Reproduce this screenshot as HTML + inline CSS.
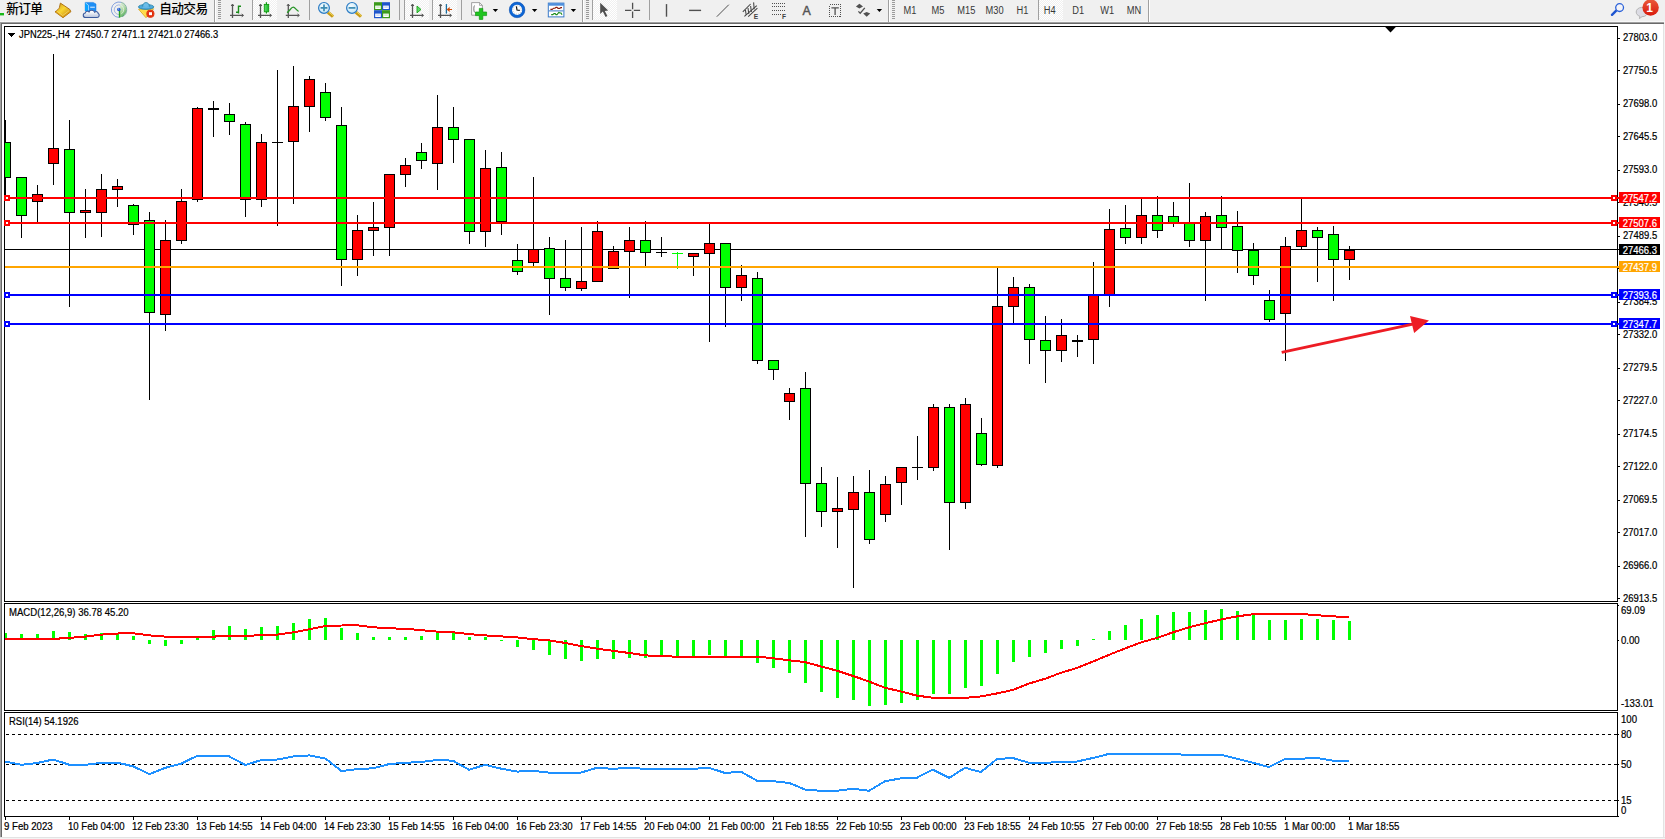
<!DOCTYPE html>
<html><head><meta charset="utf-8"><title>JPN225-,H4</title>
<style>
html,body{margin:0;padding:0}
body{width:1665px;height:839px;overflow:hidden;background:#f0f0f0;position:relative;font-family:"Liberation Sans","Noto Sans CJK SC",sans-serif;font-size:10px;color:#000}
#win{position:absolute;left:0;top:22px;width:1665px;height:817px;background:#fff}
#chart{position:absolute;left:0;top:0;width:1665px;height:839px}
svg{position:absolute;left:0;top:0}
.ax,.ax2,.tag,.tm,.lbl{position:absolute;white-space:nowrap;line-height:12px;height:12px;-webkit-text-stroke:0.2px currentColor}
.ax,.ax2,.tm,.lbl{transform-origin:0 0}
.ax{transform:scaleX(0.945)}.ax2{transform:scaleX(0.96)}.tm{transform:scaleX(0.962)}
.tag span{display:block;position:relative;top:1px;transform:scaleX(0.945);transform-origin:0 0}
.ax{left:1623px}
.ax2{left:1621px}
.tag{left:1619px;width:41px;height:11px;line-height:11px;color:#fff;text-indent:4px}
.tm{top:821px}
#tb{position:absolute;left:0;top:0;width:1665px;height:22px}
.tbt{position:absolute;top:1.2px;height:18px;line-height:17px;font-size:12.7px;letter-spacing:-0.6px;color:#000;font-weight:500;white-space:nowrap;font-family:"Liberation Sans","Noto Sans CJK SC",sans-serif}

</style></head><body>
<div id="win"></div>
<div id="frame">
<div style="position:absolute;left:0;top:21px;width:1665px;height:1px;background:#f8f8f8"></div>
<div style="position:absolute;left:0;top:22px;width:1665px;height:1px;background:#a0a0a0"></div>
<div style="position:absolute;left:0;top:23px;width:1665px;height:1px;background:#696969"></div>
<div style="position:absolute;left:0;top:22px;width:1px;height:817px;background:#a0a0a0"></div>
<div style="position:absolute;left:1px;top:23px;width:1px;height:816px;background:#696969"></div>
<div style="position:absolute;left:1663px;top:24px;width:1px;height:815px;background:#e3e3e3"></div>
<div style="position:absolute;left:1664px;top:22px;width:1px;height:817px;background:#f4f4f4"></div>
<div style="position:absolute;left:0px;top:837px;width:1665px;height:1px;background:#e3e3e3"></div>
<div style="position:absolute;left:0px;top:838px;width:1665px;height:1px;background:#f4f4f4"></div>
</div>
<div id="chart">
<svg width="1665" height="839" viewBox="0 0 1665 839" shape-rendering="crispEdges">
<defs><clipPath id="cp"><rect x="5" y="27" width="1612" height="789"/></clipPath></defs><g clip-path="url(#cp)">
<rect x="5" y="249" width="1612" height="1" fill="#000"/>
<rect x="5" y="120" width="1" height="78" fill="#000"/>
<rect x="0" y="142" width="11" height="36" fill="#000"/>
<rect x="1" y="143" width="9" height="34" fill="#00ff00"/>
<rect x="21" y="177" width="1" height="61" fill="#000"/>
<rect x="16" y="177" width="11" height="39" fill="#000"/>
<rect x="17" y="178" width="9" height="37" fill="#00ff00"/>
<rect x="37" y="185" width="1" height="37" fill="#000"/>
<rect x="32" y="194" width="11" height="8" fill="#000"/>
<rect x="33" y="195" width="9" height="6" fill="#ff0000"/>
<rect x="53" y="54" width="1" height="131" fill="#000"/>
<rect x="48" y="148" width="11" height="16" fill="#000"/>
<rect x="49" y="149" width="9" height="14" fill="#ff0000"/>
<rect x="69" y="120" width="1" height="187" fill="#000"/>
<rect x="64" y="149" width="11" height="64" fill="#000"/>
<rect x="65" y="150" width="9" height="62" fill="#00ff00"/>
<rect x="85" y="189" width="1" height="49" fill="#000"/>
<rect x="80" y="210" width="11" height="3" fill="#000"/>
<rect x="81" y="211" width="9" height="1" fill="#ff0000"/>
<rect x="101" y="174" width="1" height="63" fill="#000"/>
<rect x="96" y="189" width="11" height="24" fill="#000"/>
<rect x="97" y="190" width="9" height="22" fill="#ff0000"/>
<rect x="117" y="179" width="1" height="28" fill="#000"/>
<rect x="112" y="186" width="11" height="4" fill="#000"/>
<rect x="113" y="187" width="9" height="2" fill="#ff0000"/>
<rect x="133" y="204" width="1" height="31" fill="#000"/>
<rect x="128" y="205" width="11" height="20" fill="#000"/>
<rect x="129" y="206" width="9" height="18" fill="#00ff00"/>
<rect x="149" y="212" width="1" height="188" fill="#000"/>
<rect x="144" y="220" width="11" height="93" fill="#000"/>
<rect x="145" y="221" width="9" height="91" fill="#00ff00"/>
<rect x="165" y="220" width="1" height="111" fill="#000"/>
<rect x="160" y="240" width="11" height="75" fill="#000"/>
<rect x="161" y="241" width="9" height="73" fill="#ff0000"/>
<rect x="181" y="189" width="1" height="55" fill="#000"/>
<rect x="176" y="201" width="11" height="40" fill="#000"/>
<rect x="177" y="202" width="9" height="38" fill="#ff0000"/>
<rect x="197" y="107" width="1" height="95" fill="#000"/>
<rect x="192" y="108" width="11" height="92" fill="#000"/>
<rect x="193" y="109" width="9" height="90" fill="#ff0000"/>
<rect x="213" y="101" width="1" height="36" fill="#000"/>
<rect x="208" y="108" width="11" height="2" fill="#000"/>
<rect x="229" y="103" width="1" height="32" fill="#000"/>
<rect x="224" y="114" width="11" height="8" fill="#000"/>
<rect x="225" y="115" width="9" height="6" fill="#00ff00"/>
<rect x="245" y="122" width="1" height="95" fill="#000"/>
<rect x="240" y="124" width="11" height="76" fill="#000"/>
<rect x="241" y="125" width="9" height="74" fill="#00ff00"/>
<rect x="261" y="134" width="1" height="73" fill="#000"/>
<rect x="256" y="142" width="11" height="58" fill="#000"/>
<rect x="257" y="143" width="9" height="56" fill="#ff0000"/>
<rect x="277" y="70" width="1" height="156" fill="#000"/>
<rect x="272" y="142" width="11" height="1" fill="#000"/>
<rect x="293" y="66" width="1" height="138" fill="#000"/>
<rect x="288" y="106" width="11" height="36" fill="#000"/>
<rect x="289" y="107" width="9" height="34" fill="#ff0000"/>
<rect x="309" y="76" width="1" height="56" fill="#000"/>
<rect x="304" y="79" width="11" height="28" fill="#000"/>
<rect x="305" y="80" width="9" height="26" fill="#ff0000"/>
<rect x="325" y="83" width="1" height="38" fill="#000"/>
<rect x="320" y="92" width="11" height="26" fill="#000"/>
<rect x="321" y="93" width="9" height="24" fill="#00ff00"/>
<rect x="341" y="107" width="1" height="179" fill="#000"/>
<rect x="336" y="125" width="11" height="135" fill="#000"/>
<rect x="337" y="126" width="9" height="133" fill="#00ff00"/>
<rect x="357" y="215" width="1" height="61" fill="#000"/>
<rect x="352" y="230" width="11" height="30" fill="#000"/>
<rect x="353" y="231" width="9" height="28" fill="#ff0000"/>
<rect x="373" y="202" width="1" height="54" fill="#000"/>
<rect x="368" y="227" width="11" height="4" fill="#000"/>
<rect x="369" y="228" width="9" height="2" fill="#ff0000"/>
<rect x="389" y="174" width="1" height="82" fill="#000"/>
<rect x="384" y="174" width="11" height="54" fill="#000"/>
<rect x="385" y="175" width="9" height="52" fill="#ff0000"/>
<rect x="405" y="158" width="1" height="29" fill="#000"/>
<rect x="400" y="165" width="11" height="10" fill="#000"/>
<rect x="401" y="166" width="9" height="8" fill="#ff0000"/>
<rect x="421" y="143" width="1" height="26" fill="#000"/>
<rect x="416" y="152" width="11" height="9" fill="#000"/>
<rect x="417" y="153" width="9" height="7" fill="#00ff00"/>
<rect x="437" y="95" width="1" height="95" fill="#000"/>
<rect x="432" y="127" width="11" height="37" fill="#000"/>
<rect x="433" y="128" width="9" height="35" fill="#ff0000"/>
<rect x="453" y="107" width="1" height="56" fill="#000"/>
<rect x="448" y="127" width="11" height="13" fill="#000"/>
<rect x="449" y="128" width="9" height="11" fill="#00ff00"/>
<rect x="469" y="139" width="1" height="105" fill="#000"/>
<rect x="464" y="139" width="11" height="93" fill="#000"/>
<rect x="465" y="140" width="9" height="91" fill="#00ff00"/>
<rect x="485" y="150" width="1" height="97" fill="#000"/>
<rect x="480" y="168" width="11" height="64" fill="#000"/>
<rect x="481" y="169" width="9" height="62" fill="#ff0000"/>
<rect x="501" y="152" width="1" height="83" fill="#000"/>
<rect x="496" y="167" width="11" height="55" fill="#000"/>
<rect x="497" y="168" width="9" height="53" fill="#00ff00"/>
<rect x="517" y="244" width="1" height="31" fill="#000"/>
<rect x="512" y="260" width="11" height="12" fill="#000"/>
<rect x="513" y="261" width="9" height="10" fill="#00ff00"/>
<rect x="533" y="177" width="1" height="90" fill="#000"/>
<rect x="528" y="249" width="11" height="14" fill="#000"/>
<rect x="529" y="250" width="9" height="12" fill="#ff0000"/>
<rect x="549" y="237" width="1" height="78" fill="#000"/>
<rect x="544" y="248" width="11" height="31" fill="#000"/>
<rect x="545" y="249" width="9" height="29" fill="#00ff00"/>
<rect x="565" y="240" width="1" height="51" fill="#000"/>
<rect x="560" y="278" width="11" height="10" fill="#000"/>
<rect x="561" y="279" width="9" height="8" fill="#00ff00"/>
<rect x="581" y="227" width="1" height="64" fill="#000"/>
<rect x="576" y="281" width="11" height="8" fill="#000"/>
<rect x="577" y="282" width="9" height="6" fill="#ff0000"/>
<rect x="597" y="221" width="1" height="61" fill="#000"/>
<rect x="592" y="231" width="11" height="51" fill="#000"/>
<rect x="593" y="232" width="9" height="49" fill="#ff0000"/>
<rect x="613" y="246" width="1" height="23" fill="#000"/>
<rect x="608" y="251" width="11" height="18" fill="#000"/>
<rect x="609" y="252" width="9" height="16" fill="#ff0000"/>
<rect x="629" y="227" width="1" height="71" fill="#000"/>
<rect x="624" y="240" width="11" height="12" fill="#000"/>
<rect x="625" y="241" width="9" height="10" fill="#ff0000"/>
<rect x="645" y="221" width="1" height="46" fill="#000"/>
<rect x="640" y="240" width="11" height="13" fill="#000"/>
<rect x="641" y="241" width="9" height="11" fill="#00ff00"/>
<rect x="661" y="237" width="1" height="20" fill="#000"/>
<rect x="656" y="252" width="11" height="1" fill="#000"/>
<rect x="677" y="252" width="1" height="17" fill="#00ff00"/>
<rect x="672" y="253" width="11" height="1" fill="#00ff00"/>
<rect x="693" y="253" width="1" height="23" fill="#000"/>
<rect x="688" y="253" width="11" height="4" fill="#000"/>
<rect x="689" y="254" width="9" height="2" fill="#ff0000"/>
<rect x="709" y="224" width="1" height="118" fill="#000"/>
<rect x="704" y="243" width="11" height="11" fill="#000"/>
<rect x="705" y="244" width="9" height="9" fill="#ff0000"/>
<rect x="725" y="243" width="1" height="84" fill="#000"/>
<rect x="720" y="243" width="11" height="45" fill="#000"/>
<rect x="721" y="244" width="9" height="43" fill="#00ff00"/>
<rect x="741" y="265" width="1" height="36" fill="#000"/>
<rect x="736" y="275" width="11" height="13" fill="#000"/>
<rect x="737" y="276" width="9" height="11" fill="#ff0000"/>
<rect x="757" y="272" width="1" height="92" fill="#000"/>
<rect x="752" y="278" width="11" height="83" fill="#000"/>
<rect x="753" y="279" width="9" height="81" fill="#00ff00"/>
<rect x="773" y="360" width="1" height="20" fill="#000"/>
<rect x="768" y="360" width="11" height="10" fill="#000"/>
<rect x="769" y="361" width="9" height="8" fill="#00ff00"/>
<rect x="789" y="388" width="1" height="32" fill="#000"/>
<rect x="784" y="393" width="11" height="9" fill="#000"/>
<rect x="785" y="394" width="9" height="7" fill="#ff0000"/>
<rect x="805" y="372" width="1" height="165" fill="#000"/>
<rect x="800" y="388" width="11" height="96" fill="#000"/>
<rect x="801" y="389" width="9" height="94" fill="#00ff00"/>
<rect x="821" y="467" width="1" height="60" fill="#000"/>
<rect x="816" y="483" width="11" height="29" fill="#000"/>
<rect x="817" y="484" width="9" height="27" fill="#00ff00"/>
<rect x="837" y="477" width="1" height="71" fill="#000"/>
<rect x="832" y="508" width="11" height="4" fill="#000"/>
<rect x="833" y="509" width="9" height="2" fill="#ff0000"/>
<rect x="853" y="476" width="1" height="112" fill="#000"/>
<rect x="848" y="492" width="11" height="18" fill="#000"/>
<rect x="849" y="493" width="9" height="16" fill="#ff0000"/>
<rect x="869" y="470" width="1" height="74" fill="#000"/>
<rect x="864" y="492" width="11" height="48" fill="#000"/>
<rect x="865" y="493" width="9" height="46" fill="#00ff00"/>
<rect x="885" y="476" width="1" height="46" fill="#000"/>
<rect x="880" y="484" width="11" height="31" fill="#000"/>
<rect x="881" y="485" width="9" height="29" fill="#ff0000"/>
<rect x="901" y="467" width="1" height="38" fill="#000"/>
<rect x="896" y="467" width="11" height="16" fill="#000"/>
<rect x="897" y="468" width="9" height="14" fill="#ff0000"/>
<rect x="917" y="436" width="1" height="44" fill="#000"/>
<rect x="912" y="467" width="11" height="1" fill="#000"/>
<rect x="933" y="404" width="1" height="67" fill="#000"/>
<rect x="928" y="407" width="11" height="61" fill="#000"/>
<rect x="929" y="408" width="9" height="59" fill="#ff0000"/>
<rect x="949" y="404" width="1" height="146" fill="#000"/>
<rect x="944" y="407" width="11" height="96" fill="#000"/>
<rect x="945" y="408" width="9" height="94" fill="#00ff00"/>
<rect x="965" y="398" width="1" height="111" fill="#000"/>
<rect x="960" y="404" width="11" height="99" fill="#000"/>
<rect x="961" y="405" width="9" height="97" fill="#ff0000"/>
<rect x="981" y="418" width="1" height="48" fill="#000"/>
<rect x="976" y="433" width="11" height="32" fill="#000"/>
<rect x="977" y="434" width="9" height="30" fill="#00ff00"/>
<rect x="997" y="268" width="1" height="200" fill="#000"/>
<rect x="992" y="306" width="11" height="160" fill="#000"/>
<rect x="993" y="307" width="9" height="158" fill="#ff0000"/>
<rect x="1013" y="277" width="1" height="46" fill="#000"/>
<rect x="1008" y="287" width="11" height="20" fill="#000"/>
<rect x="1009" y="288" width="9" height="18" fill="#ff0000"/>
<rect x="1029" y="284" width="1" height="80" fill="#000"/>
<rect x="1024" y="287" width="11" height="53" fill="#000"/>
<rect x="1025" y="288" width="9" height="51" fill="#00ff00"/>
<rect x="1045" y="316" width="1" height="67" fill="#000"/>
<rect x="1040" y="340" width="11" height="11" fill="#000"/>
<rect x="1041" y="341" width="9" height="9" fill="#00ff00"/>
<rect x="1061" y="319" width="1" height="43" fill="#000"/>
<rect x="1056" y="335" width="11" height="16" fill="#000"/>
<rect x="1057" y="336" width="9" height="14" fill="#ff0000"/>
<rect x="1077" y="335" width="1" height="22" fill="#000"/>
<rect x="1072" y="340" width="11" height="2" fill="#000"/>
<rect x="1093" y="262" width="1" height="102" fill="#000"/>
<rect x="1088" y="295" width="11" height="45" fill="#000"/>
<rect x="1089" y="296" width="9" height="43" fill="#ff0000"/>
<rect x="1109" y="209" width="1" height="98" fill="#000"/>
<rect x="1104" y="229" width="11" height="66" fill="#000"/>
<rect x="1105" y="230" width="9" height="64" fill="#ff0000"/>
<rect x="1125" y="205" width="1" height="39" fill="#000"/>
<rect x="1120" y="228" width="11" height="10" fill="#000"/>
<rect x="1121" y="229" width="9" height="8" fill="#00ff00"/>
<rect x="1141" y="199" width="1" height="45" fill="#000"/>
<rect x="1136" y="215" width="11" height="23" fill="#000"/>
<rect x="1137" y="216" width="9" height="21" fill="#ff0000"/>
<rect x="1157" y="196" width="1" height="42" fill="#000"/>
<rect x="1152" y="215" width="11" height="16" fill="#000"/>
<rect x="1153" y="216" width="9" height="14" fill="#00ff00"/>
<rect x="1173" y="202" width="1" height="25" fill="#000"/>
<rect x="1168" y="216" width="11" height="7" fill="#000"/>
<rect x="1169" y="217" width="9" height="5" fill="#00ff00"/>
<rect x="1189" y="183" width="1" height="64" fill="#000"/>
<rect x="1184" y="222" width="11" height="19" fill="#000"/>
<rect x="1185" y="223" width="9" height="17" fill="#00ff00"/>
<rect x="1205" y="212" width="1" height="89" fill="#000"/>
<rect x="1200" y="216" width="11" height="25" fill="#000"/>
<rect x="1201" y="217" width="9" height="23" fill="#ff0000"/>
<rect x="1221" y="196" width="1" height="54" fill="#000"/>
<rect x="1216" y="215" width="11" height="13" fill="#000"/>
<rect x="1217" y="216" width="9" height="11" fill="#00ff00"/>
<rect x="1237" y="211" width="1" height="62" fill="#000"/>
<rect x="1232" y="226" width="11" height="25" fill="#000"/>
<rect x="1233" y="227" width="9" height="23" fill="#00ff00"/>
<rect x="1253" y="243" width="1" height="42" fill="#000"/>
<rect x="1248" y="250" width="11" height="26" fill="#000"/>
<rect x="1249" y="251" width="9" height="24" fill="#00ff00"/>
<rect x="1269" y="290" width="1" height="32" fill="#000"/>
<rect x="1264" y="300" width="11" height="20" fill="#000"/>
<rect x="1265" y="301" width="9" height="18" fill="#00ff00"/>
<rect x="1285" y="237" width="1" height="124" fill="#000"/>
<rect x="1280" y="246" width="11" height="68" fill="#000"/>
<rect x="1281" y="247" width="9" height="66" fill="#ff0000"/>
<rect x="1301" y="199" width="1" height="51" fill="#000"/>
<rect x="1296" y="230" width="11" height="17" fill="#000"/>
<rect x="1297" y="231" width="9" height="15" fill="#ff0000"/>
<rect x="1317" y="227" width="1" height="55" fill="#000"/>
<rect x="1312" y="230" width="11" height="8" fill="#000"/>
<rect x="1313" y="231" width="9" height="6" fill="#00ff00"/>
<rect x="1333" y="226" width="1" height="75" fill="#000"/>
<rect x="1328" y="234" width="11" height="26" fill="#000"/>
<rect x="1329" y="235" width="9" height="24" fill="#00ff00"/>
<rect x="1349" y="246" width="1" height="34" fill="#000"/>
<rect x="1344" y="250" width="11" height="10" fill="#000"/>
<rect x="1345" y="251" width="9" height="8" fill="#ff0000"/>
<rect x="5" y="197" width="1614" height="2" fill="#ff0000"/>
<rect x="5" y="222" width="1614" height="2" fill="#ff0000"/>
<rect x="5" y="266" width="1614" height="2" fill="#ffa500"/>
<rect x="5" y="294" width="1614" height="2" fill="#0000ff"/>
<rect x="5" y="323" width="1614" height="2" fill="#0000ff"/>
<g shape-rendering="auto"><line x1="1281.7" y1="352.4" x2="1414" y2="323.8" stroke="#ed1c24" stroke-width="2.8"/><polygon points="1429,320.5 1410,315.9 1414.1,332.9" fill="#ed1c24"/></g>
<rect x="4" y="633" width="3" height="7" fill="#00ff00"/>
<rect x="20" y="634" width="3" height="6" fill="#00ff00"/>
<rect x="36" y="634" width="3" height="6" fill="#00ff00"/>
<rect x="52" y="631" width="3" height="9" fill="#00ff00"/>
<rect x="68" y="632" width="3" height="8" fill="#00ff00"/>
<rect x="84" y="634" width="3" height="6" fill="#00ff00"/>
<rect x="100" y="633" width="3" height="7" fill="#00ff00"/>
<rect x="116" y="633" width="3" height="7" fill="#00ff00"/>
<rect x="132" y="636" width="3" height="4" fill="#00ff00"/>
<rect x="148" y="640" width="3" height="4" fill="#00ff00"/>
<rect x="164" y="640" width="3" height="6" fill="#00ff00"/>
<rect x="180" y="640" width="3" height="4" fill="#00ff00"/>
<rect x="196" y="638" width="3" height="2" fill="#00ff00"/>
<rect x="212" y="630" width="3" height="10" fill="#00ff00"/>
<rect x="228" y="626" width="3" height="14" fill="#00ff00"/>
<rect x="244" y="629" width="3" height="11" fill="#00ff00"/>
<rect x="260" y="627" width="3" height="13" fill="#00ff00"/>
<rect x="276" y="626" width="3" height="14" fill="#00ff00"/>
<rect x="292" y="623" width="3" height="17" fill="#00ff00"/>
<rect x="308" y="619" width="3" height="21" fill="#00ff00"/>
<rect x="324" y="618" width="3" height="22" fill="#00ff00"/>
<rect x="340" y="628" width="3" height="12" fill="#00ff00"/>
<rect x="356" y="633" width="3" height="7" fill="#00ff00"/>
<rect x="372" y="637" width="3" height="3" fill="#00ff00"/>
<rect x="388" y="637" width="3" height="3" fill="#00ff00"/>
<rect x="404" y="637" width="3" height="3" fill="#00ff00"/>
<rect x="420" y="636" width="3" height="4" fill="#00ff00"/>
<rect x="436" y="633" width="3" height="7" fill="#00ff00"/>
<rect x="452" y="633" width="3" height="7" fill="#00ff00"/>
<rect x="468" y="637" width="3" height="3" fill="#00ff00"/>
<rect x="484" y="637" width="3" height="3" fill="#00ff00"/>
<rect x="500" y="640" width="3" height="1" fill="#00ff00"/>
<rect x="516" y="640" width="3" height="7" fill="#00ff00"/>
<rect x="532" y="640" width="3" height="10" fill="#00ff00"/>
<rect x="548" y="640" width="3" height="15" fill="#00ff00"/>
<rect x="564" y="640" width="3" height="19" fill="#00ff00"/>
<rect x="580" y="640" width="3" height="21" fill="#00ff00"/>
<rect x="596" y="640" width="3" height="19" fill="#00ff00"/>
<rect x="612" y="640" width="3" height="19" fill="#00ff00"/>
<rect x="628" y="640" width="3" height="18" fill="#00ff00"/>
<rect x="644" y="640" width="3" height="18" fill="#00ff00"/>
<rect x="660" y="640" width="3" height="17" fill="#00ff00"/>
<rect x="676" y="640" width="3" height="17" fill="#00ff00"/>
<rect x="692" y="640" width="3" height="17" fill="#00ff00"/>
<rect x="708" y="640" width="3" height="15" fill="#00ff00"/>
<rect x="724" y="640" width="3" height="17" fill="#00ff00"/>
<rect x="740" y="640" width="3" height="17" fill="#00ff00"/>
<rect x="756" y="640" width="3" height="23" fill="#00ff00"/>
<rect x="772" y="640" width="3" height="28" fill="#00ff00"/>
<rect x="788" y="640" width="3" height="33" fill="#00ff00"/>
<rect x="804" y="640" width="3" height="43" fill="#00ff00"/>
<rect x="820" y="640" width="3" height="52" fill="#00ff00"/>
<rect x="836" y="640" width="3" height="58" fill="#00ff00"/>
<rect x="852" y="640" width="3" height="60" fill="#00ff00"/>
<rect x="868" y="640" width="3" height="66" fill="#00ff00"/>
<rect x="884" y="640" width="3" height="65" fill="#00ff00"/>
<rect x="900" y="640" width="3" height="63" fill="#00ff00"/>
<rect x="916" y="640" width="3" height="60" fill="#00ff00"/>
<rect x="932" y="640" width="3" height="54" fill="#00ff00"/>
<rect x="948" y="640" width="3" height="54" fill="#00ff00"/>
<rect x="964" y="640" width="3" height="48" fill="#00ff00"/>
<rect x="980" y="640" width="3" height="46" fill="#00ff00"/>
<rect x="996" y="640" width="3" height="34" fill="#00ff00"/>
<rect x="1012" y="640" width="3" height="22" fill="#00ff00"/>
<rect x="1028" y="640" width="3" height="17" fill="#00ff00"/>
<rect x="1044" y="640" width="3" height="13" fill="#00ff00"/>
<rect x="1060" y="640" width="3" height="9" fill="#00ff00"/>
<rect x="1076" y="640" width="3" height="6" fill="#00ff00"/>
<rect x="1092" y="639" width="3" height="1" fill="#00ff00"/>
<rect x="1108" y="631" width="3" height="9" fill="#00ff00"/>
<rect x="1124" y="625" width="3" height="15" fill="#00ff00"/>
<rect x="1140" y="619" width="3" height="21" fill="#00ff00"/>
<rect x="1156" y="615" width="3" height="25" fill="#00ff00"/>
<rect x="1172" y="612" width="3" height="28" fill="#00ff00"/>
<rect x="1188" y="612" width="3" height="28" fill="#00ff00"/>
<rect x="1204" y="610" width="3" height="30" fill="#00ff00"/>
<rect x="1220" y="609" width="3" height="31" fill="#00ff00"/>
<rect x="1236" y="611" width="3" height="29" fill="#00ff00"/>
<rect x="1252" y="615" width="3" height="25" fill="#00ff00"/>
<rect x="1268" y="620" width="3" height="20" fill="#00ff00"/>
<rect x="1284" y="620" width="3" height="20" fill="#00ff00"/>
<rect x="1300" y="619" width="3" height="21" fill="#00ff00"/>
<rect x="1316" y="619" width="3" height="21" fill="#00ff00"/>
<rect x="1332" y="620" width="3" height="20" fill="#00ff00"/>
<rect x="1348" y="621" width="3" height="19" fill="#00ff00"/>
<polyline shape-rendering="crispEdges" fill="none" stroke="#ff0000" stroke-width="2" points="5.0,639.1 53.2,638.9 69.4,637.9 85.3,636.6 101.4,634.6 117.3,633.6 126.1,632.8 133.5,633.3 149.3,635.4 165.5,636.6 197.5,636.9 213.4,636.6 229.3,635.9 261.4,635.4 277.5,634.6 293.4,632.3 309.5,629.3 325.4,626.0 341.6,625.5 353.2,624.8 357.5,625.3 373.4,627.3 389.5,628.3 405.0,628.8 420.9,630.1 437.1,631.6 453.0,632.3 469.1,634.1 485.0,635.4 500.9,636.4 517.1,637.4 532.9,639.1 549.1,640.4 565.0,642.9 580.9,646.0 597.0,648.7 612.9,650.8 629.1,653.0 645.0,655.3 661.1,656.3 677.0,656.6 757.0,656.6 773.1,658.3 789.0,660.3 805.0,662.1 820.9,666.4 837.1,670.7 853.0,676.0 869.1,681.5 885.0,687.8 900.9,691.4 917.1,695.7 932.9,697.7 949.1,697.9 965.0,697.9 980.9,696.4 997.0,693.4 1012.9,689.9 1029.1,683.5 1045.0,678.8 1061.1,672.7 1077.0,667.9 1092.9,661.6 1109.0,654.8 1124.9,648.5 1141.1,642.4 1157.0,637.9 1173.1,632.3 1189.0,627.3 1205.0,623.3 1220.9,619.5 1237.1,616.4 1253.0,614.2 1269.1,613.9 1285.0,613.9 1300.9,613.9 1317.1,615.2 1332.9,616.4 1349.1,616.9"/>
<line x1="6" y1="734.5" x2="1617" y2="734.5" stroke="#000" stroke-width="1" stroke-dasharray="3 3"/>
<line x1="6" y1="764.5" x2="1617" y2="764.5" stroke="#000" stroke-width="1" stroke-dasharray="3 3"/>
<line x1="6" y1="800.5" x2="1617" y2="800.5" stroke="#000" stroke-width="1" stroke-dasharray="3 3"/>
<polyline shape-rendering="crispEdges" fill="none" stroke="#1e90ff" stroke-width="2" points="5.0,761.5 21.4,764.8 37.3,763.0 53.2,759.5 69.4,764.8 85.3,764.8 101.4,762.8 117.3,762.5 133.5,766.5 149.3,774.1 165.5,767.8 181.4,763.5 197.5,755.7 213.4,755.7 229.3,756.5 245.5,765.0 261.4,760.0 277.5,759.5 293.4,756.5 309.5,755.4 325.4,758.5 341.6,771.1 357.5,769.1 373.4,768.3 389.5,764.0 405.0,762.8 420.9,762.0 437.1,760.0 453.0,760.7 469.1,769.8 485.0,764.8 500.9,768.6 517.1,771.6 532.9,770.8 549.1,772.6 565.0,772.6 580.9,772.6 597.0,767.8 612.9,768.8 629.1,767.8 645.0,768.8 661.1,768.8 677.0,768.8 692.9,768.8 709.0,767.8 724.9,772.9 741.1,771.8 757.0,780.7 773.1,781.2 789.0,782.9 805.0,789.5 820.9,790.8 837.1,790.8 853.0,788.7 869.1,790.8 885.0,781.2 900.9,778.4 917.1,777.6 932.9,769.6 949.1,777.9 965.0,767.8 980.9,772.1 997.0,759.0 1012.9,758.0 1029.1,762.8 1045.0,762.8 1061.1,762.0 1077.0,761.5 1092.9,758.0 1109.0,753.9 1124.9,753.7 1141.1,753.7 1157.0,753.7 1173.1,753.7 1189.0,755.4 1205.0,754.7 1220.9,754.7 1237.1,758.7 1253.0,762.8 1269.1,767.0 1285.0,759.0 1300.9,758.7 1317.1,758.0 1332.9,760.7 1349.1,760.7"/>
</g>
<rect x="4" y="26" width="1614" height="1" fill="#000"/><rect x="4" y="601" width="1614" height="1" fill="#000"/>
<rect x="4" y="26" width="1" height="576" fill="#000"/><rect x="1617" y="26" width="1" height="576" fill="#000"/>
<rect x="4" y="603" width="1614" height="1" fill="#000"/><rect x="4" y="710" width="1614" height="1" fill="#000"/>
<rect x="4" y="603" width="1" height="108" fill="#000"/><rect x="1617" y="603" width="1" height="108" fill="#000"/>
<rect x="4" y="712" width="1614" height="1" fill="#000"/><rect x="4" y="816" width="1614" height="1" fill="#000"/>
<rect x="4" y="712" width="1" height="105" fill="#000"/><rect x="1617" y="712" width="1" height="105" fill="#000"/>
<rect x="4" y="195" width="6" height="6" fill="#ff0000"/><rect x="6" y="197" width="2" height="2" fill="#fff"/>
<rect x="1611" y="195" width="6" height="6" fill="#ff0000"/><rect x="1613" y="197" width="2" height="2" fill="#fff"/>
<rect x="4" y="220" width="6" height="6" fill="#ff0000"/><rect x="6" y="222" width="2" height="2" fill="#fff"/>
<rect x="1611" y="220" width="6" height="6" fill="#ff0000"/><rect x="1613" y="222" width="2" height="2" fill="#fff"/>
<rect x="4" y="292" width="6" height="6" fill="#0000ff"/><rect x="6" y="294" width="2" height="2" fill="#fff"/>
<rect x="1611" y="292" width="6" height="6" fill="#0000ff"/><rect x="1613" y="294" width="2" height="2" fill="#fff"/>
<rect x="4" y="321" width="6" height="6" fill="#0000ff"/><rect x="6" y="323" width="2" height="2" fill="#fff"/>
<rect x="1611" y="321" width="6" height="6" fill="#0000ff"/><rect x="1613" y="323" width="2" height="2" fill="#fff"/>
<rect x="1617" y="197" width="2" height="2" fill="#ff0000"/>
<rect x="1617" y="222" width="2" height="2" fill="#ff0000"/>
<rect x="1617" y="266" width="2" height="2" fill="#ffa500"/>
<rect x="1617" y="294" width="2" height="2" fill="#0000ff"/>
<rect x="1617" y="323" width="2" height="2" fill="#0000ff"/>
<rect x="1617" y="249" width="2" height="1" fill="#000"/>
<polygon shape-rendering="auto" points="1385.2,27 1395.8,27 1390.5,32.4" fill="#000"/>
<polygon points="8,33 15,33 11.5,37" fill="#000"/>
<rect x="1618" y="38" width="2" height="1" fill="#000"/>
<rect x="1618" y="70" width="2" height="1" fill="#000"/>
<rect x="1618" y="104" width="2" height="1" fill="#000"/>
<rect x="1618" y="136" width="2" height="1" fill="#000"/>
<rect x="1618" y="170" width="2" height="1" fill="#000"/>
<rect x="1618" y="202" width="2" height="1" fill="#000"/>
<rect x="1618" y="236" width="2" height="1" fill="#000"/>
<rect x="1618" y="268" width="2" height="1" fill="#000"/>
<rect x="1618" y="302" width="2" height="1" fill="#000"/>
<rect x="1618" y="334" width="2" height="1" fill="#000"/>
<rect x="1618" y="368" width="2" height="1" fill="#000"/>
<rect x="1618" y="400" width="2" height="1" fill="#000"/>
<rect x="1618" y="434" width="2" height="1" fill="#000"/>
<rect x="1618" y="466" width="2" height="1" fill="#000"/>
<rect x="1618" y="500" width="2" height="1" fill="#000"/>
<rect x="1618" y="532" width="2" height="1" fill="#000"/>
<rect x="1618" y="566" width="2" height="1" fill="#000"/>
<rect x="1618" y="598" width="2" height="1" fill="#000"/>
<rect x="1618" y="605" width="1" height="1" fill="#000"/>
<rect x="1618" y="640" width="1" height="1" fill="#000"/>
<rect x="1618" y="734" width="1" height="1" fill="#000"/>
<rect x="1618" y="764" width="1" height="1" fill="#000"/>
<rect x="1618" y="800" width="1" height="1" fill="#000"/>
<rect x="1618" y="816" width="1" height="1" fill="#000"/>
<rect x="5" y="817" width="1" height="3" fill="#000"/>
<rect x="69" y="817" width="1" height="3" fill="#000"/>
<rect x="133" y="817" width="1" height="3" fill="#000"/>
<rect x="197" y="817" width="1" height="3" fill="#000"/>
<rect x="261" y="817" width="1" height="3" fill="#000"/>
<rect x="325" y="817" width="1" height="3" fill="#000"/>
<rect x="389" y="817" width="1" height="3" fill="#000"/>
<rect x="453" y="817" width="1" height="3" fill="#000"/>
<rect x="517" y="817" width="1" height="3" fill="#000"/>
<rect x="581" y="817" width="1" height="3" fill="#000"/>
<rect x="645" y="817" width="1" height="3" fill="#000"/>
<rect x="709" y="817" width="1" height="3" fill="#000"/>
<rect x="773" y="817" width="1" height="3" fill="#000"/>
<rect x="837" y="817" width="1" height="3" fill="#000"/>
<rect x="901" y="817" width="1" height="3" fill="#000"/>
<rect x="965" y="817" width="1" height="3" fill="#000"/>
<rect x="1029" y="817" width="1" height="3" fill="#000"/>
<rect x="1093" y="817" width="1" height="3" fill="#000"/>
<rect x="1157" y="817" width="1" height="3" fill="#000"/>
<rect x="1221" y="817" width="1" height="3" fill="#000"/>
<rect x="1285" y="817" width="1" height="3" fill="#000"/>
<rect x="1349" y="817" width="1" height="3" fill="#000"/>
</svg>
<div class="ax" style="top:32.1px">27803.0</div>
<div class="ax" style="top:65.1px">27750.5</div>
<div class="ax" style="top:98.1px">27698.0</div>
<div class="ax" style="top:131.1px">27645.5</div>
<div class="ax" style="top:164.1px">27593.0</div>
<div class="ax" style="top:197.1px">27540.5</div>
<div class="ax" style="top:230.1px">27489.5</div>
<div class="ax" style="top:263.1px">27437.0</div>
<div class="ax" style="top:296.1px">27384.5</div>
<div class="ax" style="top:329.1px">27332.0</div>
<div class="ax" style="top:362.1px">27279.5</div>
<div class="ax" style="top:395.1px">27227.0</div>
<div class="ax" style="top:428.1px">27174.5</div>
<div class="ax" style="top:461.1px">27122.0</div>
<div class="ax" style="top:494.1px">27069.5</div>
<div class="ax" style="top:527.1px">27017.0</div>
<div class="ax" style="top:560.1px">26966.0</div>
<div class="ax" style="top:593.1px">26913.5</div>
<div class="tag" style="top:192px;background:#ff0000"><span>27547.2</span></div>
<div class="tag" style="top:217px;background:#ff0000"><span>27507.6</span></div>
<div class="tag" style="top:244px;background:#000"><span>27466.3</span></div>
<div class="tag" style="top:261px;background:#ffa500"><span>27437.9</span></div>
<div class="tag" style="top:289px;background:#0000ff"><span>27393.6</span></div>
<div class="tag" style="top:318px;background:#0000ff"><span>27347.7</span></div>
<div class="ax2" style="top:605.4px">69.09</div>
<div class="ax2" style="top:635.3px">0.00</div>
<div class="ax2" style="top:698.2px">-133.01</div>
<div class="ax2" style="top:714.2px">100</div>
<div class="ax2" style="top:729.4px">80</div>
<div class="ax2" style="top:759.3px">50</div>
<div class="ax2" style="top:795.2px">15</div>
<div class="ax2" style="top:804.7px">0</div>
<div class="tm" style="left:3.8px">9 Feb 2023</div>
<div class="tm" style="left:67.8px">10 Feb 04:00</div>
<div class="tm" style="left:131.8px">12 Feb 23:30</div>
<div class="tm" style="left:195.8px">13 Feb 14:55</div>
<div class="tm" style="left:259.8px">14 Feb 04:00</div>
<div class="tm" style="left:323.8px">14 Feb 23:30</div>
<div class="tm" style="left:387.8px">15 Feb 14:55</div>
<div class="tm" style="left:451.8px">16 Feb 04:00</div>
<div class="tm" style="left:515.8px">16 Feb 23:30</div>
<div class="tm" style="left:579.8px">17 Feb 14:55</div>
<div class="tm" style="left:643.8px">20 Feb 04:00</div>
<div class="tm" style="left:707.8px">21 Feb 00:00</div>
<div class="tm" style="left:771.8px">21 Feb 18:55</div>
<div class="tm" style="left:835.8px">22 Feb 10:55</div>
<div class="tm" style="left:899.8px">23 Feb 00:00</div>
<div class="tm" style="left:963.8px">23 Feb 18:55</div>
<div class="tm" style="left:1027.8px">24 Feb 10:55</div>
<div class="tm" style="left:1091.8px">27 Feb 00:00</div>
<div class="tm" style="left:1155.8px">27 Feb 18:55</div>
<div class="tm" style="left:1219.8px">28 Feb 10:55</div>
<div class="tm" style="left:1283.8px">1 Mar 00:00</div>
<div class="tm" style="left:1347.8px">1 Mar 18:55</div>
<div class="lbl" style="left:19.2px;top:29px;transform:scaleX(0.935)">JPN225-,H4&nbsp; 27450.7 27471.1 27421.0 27466.3</div>
<div class="lbl" style="left:8.7px;top:607px;transform:scaleX(0.957)">MACD(12,26,9) 36.78 45.20</div>
<div class="lbl" style="left:8.7px;top:716px;transform:scaleX(0.946)">RSI(14) 54.1926</div>
</div>
<div id="tb"><svg width="1665" height="24" viewBox="0 0 1665 24">
<defs>
<pattern id="chk" width="2" height="2" patternUnits="userSpaceOnUse"><rect width="2" height="2" fill="#f0f0f0"/><rect width="1" height="1" fill="#fff"/><rect x="1" y="1" width="1" height="1" fill="#fff"/></pattern>
<linearGradient id="gold" x1="0" y1="0" x2="1" y2="1"><stop offset="0" stop-color="#c98f12"/><stop offset="0.45" stop-color="#f8d633"/><stop offset="1" stop-color="#c07a08"/></linearGradient>
<linearGradient id="redb" x1="0" y1="0" x2="0" y2="1"><stop offset="0" stop-color="#ea5a3a"/><stop offset="1" stop-color="#d91a0c"/></linearGradient>
<radialGradient id="lens" cx="0.4" cy="0.35" r="0.7"><stop offset="0" stop-color="#f4fbff"/><stop offset="1" stop-color="#bfe3f3"/></radialGradient>
<linearGradient id="grn" x1="0" y1="0" x2="1" y2="0"><stop offset="0" stop-color="#5fe36a"/><stop offset="1" stop-color="#18b528"/></linearGradient>
<g id="axes" stroke="#555" stroke-width="1.3" fill="none"><path d="M2.5 4.3V18M0 15.4H13"/><path d="M1.1 6L2.5 4.1L3.9 6M11.7 14L13.6 15.4L11.7 16.8" stroke-width="1"/></g>
<g id="grip" fill="#9a9a9a"><rect y="0" width="3" height="1"/><rect y="2" width="3" height="1"/><rect y="4" width="3" height="1"/><rect y="6" width="3" height="1"/><rect y="8" width="3" height="1"/><rect y="10" width="3" height="1"/><rect y="12" width="3" height="1"/><rect y="14" width="3" height="1"/><rect y="16" width="3" height="1"/><rect y="18" width="3" height="1"/></g>
<polygon id="dd" points="0,0 5.4,0 2.7,2.9" fill="#000"/>
</defs>
<!-- new order green stub -->
<rect x="0" y="13" width="4" height="2.4" fill="#18b818"/>
<!-- book -->
<path d="M60.4 3.1L69.8 9.4L70.9 11.7L63 17.7L55 11.8C57 10.6 58.8 9 59.4 7.5Z" fill="url(#gold)" stroke="#a86a10" stroke-width="0.9" stroke-linejoin="round"/>
<path d="M55.4 11.9L63 17.4L70.5 11.8L69.6 10.2L62.6 15.4L56.6 10.9Z" fill="#d99c14" opacity="0.85"/>
<path d="M57 11.3L62.7 15.6L69.2 10.6" fill="none" stroke="#fae27a" stroke-width="0.7"/>
<!-- doc + cloud -->
<path d="M85.2 2.4H93.2L96 4V11H85.2Z" fill="#1e8ff5" stroke="#1478e0" stroke-width="0.5"/>
<path d="M85.2 2.6L88.4 5.2V11H85.2Z" fill="#0aa4ff"/>
<path d="M85.6 2.9L88.5 5.3V10.5" fill="none" stroke="#e8f6ff" stroke-width="0.6"/>
<rect x="90.2" y="6.7" width="4.6" height="1" fill="#e8f4ff"/>
<linearGradient id="cl" x1="0" y1="0" x2="0" y2="1"><stop offset="0.2" stop-color="#ffffff"/><stop offset="1" stop-color="#b4c0da"/></linearGradient>
<path d="M85.6 17.5C82.6 17.5 82.5 13.4 85.3 13C85.5 11 88 10.6 89 12C90 9.6 94 9.6 94.6 12.2C96 11 98.2 11.8 98.2 13.6C99.8 14.2 99.5 17.5 97 17.5Z" fill="url(#cl)" stroke="#3c5a9c" stroke-width="1.1"/>
<!-- signal -->
<linearGradient id="sg" x1="0.2" y1="0" x2="0.7" y2="1"><stop offset="0" stop-color="#cfe8c8" stop-opacity="0.5"/><stop offset="0.55" stop-color="#9ad08f" stop-opacity="0.85"/><stop offset="1" stop-color="#3f9f4c" stop-opacity="1"/></linearGradient>
<path d="M118.9 9.7L118.9 17.5A7.8 7.8 0 0 0 121.2 2.3Z" fill="url(#sg)"/>
<g fill="none" stroke-width="0.9">
<path d="M121.2 2.3A7.7 7.7 0 1 0 118.9 17.4" stroke="#3f6fd0" opacity="0.7"/>
<path d="M120.4 5.1A4.8 4.8 0 1 0 118.9 14.5" stroke="#5f86d6" opacity="0.6"/>
<path d="M121.2 2.3A7.7 7.7 0 0 1 122 16.8" stroke="#2f7f6a" opacity="0.55"/>
<path d="M120.4 5.1A4.8 4.8 0 0 1 121.4 13.8" stroke="#eaf5e6" opacity="0.8"/>
</g>
<path d="M119.5 10V17.6" stroke="#1fa01f" stroke-width="1.3"/>
<circle cx="118.8" cy="9.5" r="1.8" fill="#2a5fd0"/>
<circle cx="118.4" cy="9" r="0.7" fill="#8fb0f0"/>
<!-- hat -->
<path d="M138.6 9.2L153.6 8.8L146 17.7Z" fill="#ffe860" stroke="#d8a010" stroke-width="0.8" stroke-linejoin="round"/>
<path d="M140 9.6L146.4 16.6L148 11Z" fill="#ffd23a" opacity="0.6"/>
<ellipse cx="146.1" cy="6.9" rx="7.7" ry="2.5" fill="#4fa8dc" stroke="#1a7aa0" stroke-width="0.7"/>
<path d="M142.6 6.6C142.6 1.2 149.4 1.2 149.4 6.6Z" fill="#6cbdea" stroke="#1a7aa0" stroke-width="0.7"/>
<ellipse cx="146" cy="6.9" rx="3.6" ry="0.9" fill="#6cbdea"/>
<circle cx="150.4" cy="13.8" r="4" fill="#dc2808"/>
<circle cx="150.4" cy="13.8" r="3.4" fill="none" stroke="#f0502a" stroke-width="0.6"/>
<rect x="148.9" y="12.2" width="3.1" height="3" fill="#fff"/>
<!-- separators -->
<g fill="#a0a0a0">
<rect x="214" y="0" width="1" height="22"/><rect x="252" y="0" width="1" height="20"/><rect x="309" y="0" width="1" height="20"/>
<rect x="399" y="0" width="1" height="20"/><rect x="404" y="0" width="1" height="20"/><rect x="432" y="0" width="1" height="20"/><rect x="461" y="0" width="1" height="20"/>
<rect x="582" y="0" width="1" height="22"/><rect x="592" y="0" width="1" height="20"/><rect x="649" y="0" width="1" height="20"/>
<rect x="888" y="0" width="1" height="22"/><rect x="1038" y="0" width="1" height="20"/><rect x="1148" y="0" width="1" height="22"/>
</g>
<g fill="#fff"><rect x="215" y="0" width="1" height="22"/><rect x="583" y="0" width="1" height="22"/><rect x="889" y="0" width="1" height="22"/><rect x="1149" y="0" width="1" height="22"/></g>
<use href="#grip" x="218" y="0"/><use href="#grip" x="586" y="0"/><use href="#grip" x="892" y="0"/>
<!-- selected backgrounds -->
<rect x="253" y="0" width="24" height="20" fill="url(#chk)"/>
<rect x="405" y="0" width="24" height="20" fill="url(#chk)"/>
<rect x="433" y="0" width="24" height="20" fill="url(#chk)"/>
<rect x="593" y="0" width="24" height="20" fill="url(#chk)"/>
<rect x="1039" y="0" width="24" height="20" fill="url(#chk)"/>
<!-- chart type icons -->
<use href="#axes" x="230" y="0"/>
<path d="M238.5 5.4V13.6M238.5 6.3H241M236 12.3H238.5" stroke="#1a8c1a" stroke-width="1.4" fill="none"/>
<use href="#axes" x="258" y="0"/>
<path d="M266.4 2.2V13.6" stroke="#119a11" stroke-width="1.2"/>
<rect x="264.3" y="4.4" width="4.4" height="7.4" fill="url(#grn)" stroke="#119a11" stroke-width="0.9"/>
<use href="#axes" x="285.8" y="0"/>
<path d="M287 12.6C289.5 11.5 291 7.2 293.2 7.2C295.2 7.2 296.5 10.8 298.6 11.3" stroke="#2a962a" stroke-width="1.3" fill="none"/>
<!-- zoom in/out -->
<g>
<path d="M327.9 12.2L333 16.6" stroke="#c89a14" stroke-width="3.2"/><path d="M328.3 11.6L333.6 16.1" stroke="#f0d860" stroke-width="1"/>
<circle cx="324" cy="7.9" r="5.4" fill="url(#lens)" stroke="#2b7bc4" stroke-width="1.2"/>
<path d="M320.6 7.9H327.4M324 4.5V11.3" stroke="#3b8bb2" stroke-width="1.7"/>
<path d="M355.9 12.2L361 16.6" stroke="#c89a14" stroke-width="3.2"/><path d="M356.3 11.6L361.6 16.1" stroke="#f0d860" stroke-width="1"/>
<circle cx="352" cy="7.9" r="5.4" fill="url(#lens)" stroke="#2b7bc4" stroke-width="1.2"/>
<path d="M348.6 7.9H355.4" stroke="#3b8bb2" stroke-width="1.7"/>
</g>
<!-- tile grid -->
<g>
<rect x="374" y="2.2" width="8" height="8" fill="#3a9a1a"/><rect x="382" y="2.2" width="8" height="8" fill="#1f55cc"/>
<rect x="374" y="10.2" width="8" height="8" fill="#1f55cc"/><rect x="382" y="10.2" width="8" height="8" fill="#3a9a1a"/>
<g fill="#fff"><rect x="375.2" y="5.6" width="5.6" height="3.4"/><rect x="383.2" y="5.6" width="5.6" height="3.4"/><rect x="375.2" y="13.6" width="5.6" height="3.4"/><rect x="383.2" y="13.6" width="5.6" height="3.4"/></g>
<g opacity="0.7"><rect x="376.2" y="6.6" width="3.6" height="0.9" fill="#8fd07a"/><rect x="384.2" y="6.6" width="3.6" height="0.9" fill="#7f9fe8"/><rect x="376.2" y="14.6" width="3.6" height="0.9" fill="#7f9fe8"/><rect x="384.2" y="14.6" width="3.6" height="0.9" fill="#8fd07a"/></g>
</g>
<!-- autoscroll / shift -->
<use href="#axes" x="410" y="0"/>
<polygon points="417,6 417,12.9 421,9.5" fill="#5fdc66" stroke="#1ba21b" stroke-width="0.9"/>
<use href="#axes" x="438" y="0"/>
<path d="M446.4 4.1V13.6" stroke="#1a6fa0" stroke-width="1.3"/>
<path d="M447.6 9.5H452M449.8 7.6L447.6 9.5L449.8 11.4" stroke="#d24a00" stroke-width="1.2" fill="none"/>
<!-- new doc plus -->
<path d="M471.6 2.6H479.5L482.4 5.4V15.2H471.6Z" fill="#fdfdfd" stroke="#8c8c8c" stroke-width="0.8"/>
<path d="M479.5 2.6V5.4H482.4" fill="none" stroke="#8c8c8c" stroke-width="0.7"/>
<path d="M474.5 5.5C473.6 6.5 473.6 11 474.5 12.4" stroke="#555" stroke-width="0.8" fill="none"/>
<path d="M479.3 8.4H482.8V12H486.6V15.6H482.8V19.4H479.3V15.6H475.5V12H479.3Z" fill="#1fc41f" stroke="#0f9a0f" stroke-width="0.7"/>
<use href="#dd" x="492.7" y="9.1"/>
<!-- clock -->
<circle cx="517.1" cy="9.9" r="6.5" fill="#fdfdfd" stroke="#0f66d4" stroke-width="2.8"/>
<circle cx="517.1" cy="9.9" r="7.8" fill="none" stroke="#0a4aa8" stroke-width="0.5"/>
<circle cx="517.1" cy="9.9" r="4.2" fill="none" stroke="#9a9a9a" stroke-width="0.8" stroke-dasharray="0.7 1.5"/>
<path d="M516.4 6.4L517 10L519.8 10.4" stroke="#111" stroke-width="1.2" fill="none"/>
<use href="#dd" x="531.9" y="9.1"/>
<!-- template -->
<rect x="548.3" y="3.1" width="15.6" height="13.8" fill="#fff" stroke="#3a7ac8" stroke-width="1"/>
<rect x="548.3" y="3.1" width="15.6" height="2.6" fill="#4f8fdc"/>
<rect x="548.8" y="10.4" width="14.6" height="1" fill="#3a7ac8"/>
<path d="M550.4 9.4H552.2L553.6 8.2H555L556 7.4H557L558 8.4H559.8L560.8 7.6H562" stroke="#8c1a0a" stroke-width="1.1" fill="none"/>
<path d="M551.2 14.6H552.8L554 13.6H555.2L556 14.6H557L558.8 12.4L560 13H561L562 14.8" stroke="#1a8a1a" stroke-width="1.1" fill="none"/>
<use href="#dd" x="570.7" y="9.1"/>
<!-- cursor -->
<polygon points="600.2,2.8 600.2,13.9 602.8,11.6 605.6,16.9 607.4,16 604.8,11 608.2,10.5" fill="#505050"/>
<path d="M625 10.4H631.4M633.8 10.4H640.1M632.6 2.8V9.2M632.6 11.6V18" stroke="#505050" stroke-width="1.3"/>
<path d="M666.5 4.1V16.7" stroke="#505050" stroke-width="1.4"/>
<path d="M689.1 10.4H701.1" stroke="#505050" stroke-width="1.4"/>
<path d="M716.8 16.7L728.8 4.7" stroke="#505050" stroke-width="1"/>
<!-- channel E -->
<g stroke="#454545" stroke-width="1.05" fill="none"><path d="M742.8 11.8L750.6 4M744.4 16.4L756.8 5.6M748.2 16.6L757.4 8.2"/><path d="M745.4 10L746.2 15M748 8L748.8 14M750.6 6L751.4 12M753.6 2.4L754.2 9.4"/></g>
<text x="753.8" y="18.7" font-size="6.6" font-weight="bold" fill="#404040" font-family="Liberation Sans, sans-serif">E</text>
<!-- fibo F -->
<g stroke="#505050" stroke-width="1" stroke-dasharray="1 1" shape-rendering="crispEdges"><path d="M772 3.5H786M772 6.5H786M772 10.5H786M772 14.5H781"/></g>
<text x="782" y="18.7" font-size="6.6" font-weight="bold" fill="#404040" font-family="Liberation Sans, sans-serif">F</text>
<text x="802.6" y="14.9" font-size="12.4" fill="#555" stroke="#555" stroke-width="0.45" font-family="Liberation Sans, sans-serif">A</text>
<rect x="829.5" y="4.5" width="11" height="12" fill="none" stroke="#505050" stroke-width="1" stroke-dasharray="1 1" shape-rendering="crispEdges"/>
<path d="M831.4 7.8H838.8M835.1 7.8V14.9" stroke="#505050" stroke-width="1.3" fill="none"/>
<!-- arrows -->
<polygon points="859.4,3.8 863,6.6 859.4,8.4 855.9,6.6" fill="#505050"/>
<polygon points="866.7,16.8 870.2,13.4 866.7,12 863.2,13.4" fill="#505050"/>
<path d="M858.4 11.4L860.2 13.2L864.8 7.8" stroke="#505050" stroke-width="1.3" fill="none"/>
<use href="#dd" x="876.7" y="9.1"/>
<!-- timeframes -->
<g font-size="10" fill="#383838" font-family="Liberation Sans, sans-serif" text-anchor="middle">
<text transform="translate(909.9,14) scale(0.93,1.08)">M1</text><text transform="translate(938.0,14) scale(0.93,1.08)">M5</text><text transform="translate(966.4,14) scale(0.93,1.08)">M15</text><text transform="translate(994.6,14) scale(0.93,1.08)">M30</text><text transform="translate(1022.4,14) scale(0.93,1.08)">H1</text><text transform="translate(1049.7,14) scale(0.93,1.08)">H4</text><text transform="translate(1078.3,14) scale(0.93,1.08)">D1</text><text transform="translate(1107.1,14) scale(0.93,1.08)">W1</text><text transform="translate(1133.9,14) scale(0.93,1.08)">MN</text>
</g>
<!-- search -->
<path d="M1616.2 10.6L1612 14.8" stroke="#1f55d0" stroke-width="2.4" stroke-linecap="round"/>
<circle cx="1619.6" cy="7.6" r="3.9" fill="#f4f4f8" stroke="#2b62d9" stroke-width="1.3"/>
<!-- chat -->
<path d="M1641.6 7.4C1638.2 7.6 1636.2 9.6 1636.2 12C1636.2 14 1637.6 15.6 1639.8 16.2L1639.4 18.6L1642 16.7C1645.4 16.8 1647.6 14.6 1647.6 12C1647.6 9.4 1645 7.4 1641.6 7.4Z" fill="#dcdce4" stroke="#a8a8a8" stroke-width="0.8"/>
<circle cx="1650.6" cy="7.5" r="8.2" fill="url(#redb)"/>
<text x="1649.7" y="12" font-size="12" font-weight="bold" fill="#fff" font-family="Liberation Sans, sans-serif" text-anchor="middle">1</text>
</svg>
<div class="tbt" style="left:6.2px">新订单</div>
<div class="tbt" style="left:159.2px">自动交易</div>
</div>
</body></html>
